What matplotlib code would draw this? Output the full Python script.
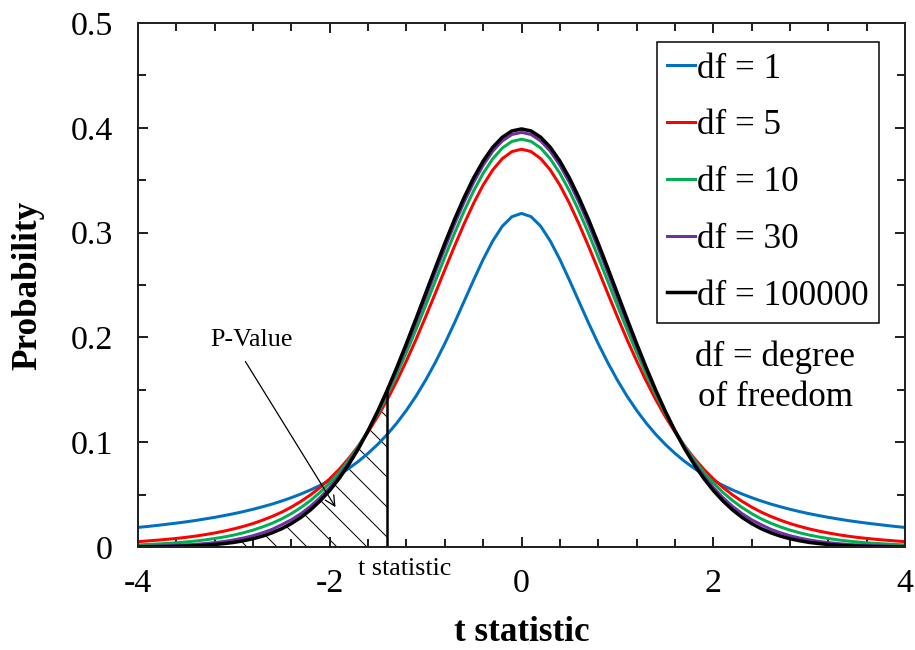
import numpy as np
import matplotlib
matplotlib.use("Agg")
import matplotlib.pyplot as plt
from matplotlib.ticker import MultipleLocator

# t values (x axis), every 0.1 from -4 to 4
t_values = np.round(np.linspace(-4, 4, 81), 1)

# probability density for t = 0, 0.1, ..., 4 (curves are symmetric)
df1_right = [0.3183, 0.3152, 0.3061, 0.2920, 0.2744, 0.2546, 0.2341, 0.2136, 0.1941, 0.1759,
             0.1592, 0.1440, 0.1305, 0.1183, 0.1075, 0.0979, 0.0894, 0.0818, 0.0751, 0.0690,
             0.0637, 0.0588, 0.0545, 0.0506, 0.0471, 0.0439, 0.0410, 0.0384, 0.0360, 0.0338,
             0.0318, 0.0300, 0.0283, 0.0268, 0.0253, 0.0240, 0.0228, 0.0217, 0.0206, 0.0196,
             0.0187]
df5_right = [0.3796, 0.3773, 0.3706, 0.3598, 0.3454, 0.3279, 0.3081, 0.2868, 0.2645, 0.2419,
             0.2197, 0.1981, 0.1777, 0.1585, 0.1407, 0.1245, 0.1098, 0.0966, 0.0848, 0.0743,
             0.0651, 0.0569, 0.0498, 0.0436, 0.0381, 0.0333, 0.0292, 0.0256, 0.0224, 0.0197,
             0.0173, 0.0152, 0.0134, 0.0118, 0.0104, 0.0092, 0.0082, 0.0073, 0.0065, 0.0058,
             0.0051]
df10_right = [0.3891, 0.3870, 0.3807, 0.3704, 0.3566, 0.3397, 0.3203, 0.2991, 0.2766, 0.2535,
              0.2304, 0.2076, 0.1857, 0.1649, 0.1454, 0.1274, 0.1111, 0.0963, 0.0831, 0.0714,
              0.0611, 0.0522, 0.0444, 0.0377, 0.0319, 0.0269, 0.0227, 0.0192, 0.0161, 0.0136,
              0.0114, 0.0096, 0.0081, 0.0068, 0.0057, 0.0048, 0.0040, 0.0034, 0.0029, 0.0024,
              0.0020]
df30_right = [0.3956, 0.3936, 0.3875, 0.3777, 0.3643, 0.3478, 0.3288, 0.3078, 0.2852, 0.2618,
              0.2380, 0.2144, 0.1913, 0.1692, 0.1484, 0.1290, 0.1112, 0.0951, 0.0807, 0.0680,
              0.0568, 0.0472, 0.0389, 0.0319, 0.0260, 0.0213, 0.0169, 0.0136, 0.0108, 0.0086,
              0.0068, 0.0053, 0.0042, 0.0033, 0.0025, 0.0020, 0.0015, 0.0012, 0.0009, 0.0007,
              0.0005]
df100000_right = [0.3989, 0.3970, 0.3910, 0.3814, 0.3683, 0.3521, 0.3332, 0.3123, 0.2897, 0.2661,
                  0.2420, 0.2179, 0.1942, 0.1714, 0.1497, 0.1295, 0.1109, 0.0940, 0.0790, 0.0656,
                  0.0540, 0.0440, 0.0355, 0.0283, 0.0224, 0.0175, 0.0136, 0.0104, 0.0079, 0.0060,
                  0.0044, 0.0033, 0.0024, 0.0017, 0.0012, 0.0009, 0.0006, 0.0004, 0.0003, 0.0002,
                  0.0001]

df1 = df1_right[:0:-1] + df1_right
df5 = df5_right[:0:-1] + df5_right
df10 = df10_right[:0:-1] + df10_right
df30 = df30_right[:0:-1] + df30_right
df100000 = df100000_right[:0:-1] + df100000_right

series = [df1, df5, df10, df30, df100000]
labels = ["df = 1", "df = 5", "df = 10", "df = 30", "df = 100000"]
colors = ["#0070C0", "#FF0000", "#00B050", "#7030A0", "#000000"]

t_crit = -1.4  # the t statistic marked on the chart
y_ticks = [0, 0.1, 0.2, 0.3, 0.4, 0.5]
y_ticklabels = ["0", "0.1", "0.2", "0.3", "0.4", "0.5"]
x_ticks = [-4, -2, 0, 2, 4]

plt.rcParams["font.family"] = "Liberation Serif"
plt.rcParams["axes.unicode_minus"] = False
plt.rcParams["hatch.linewidth"] = 0.4

DPI = 180
fig = plt.figure(figsize=(915 / DPI, 650 / DPI), dpi=DPI)
ax = fig.add_axes([138 / 915, 1 - 547 / 650, (905 - 138) / 915, (547 - 23) / 650])

for ys, lab, col in zip(series, labels, colors):
    lw = 1.4 if col == "#000000" else 1.2
    ax.plot(t_values, ys, color=col, lw=lw, label=lab)

# shaded p-value area under the df = 100000 curve
mask = t_values <= t_crit + 1e-9
ax.fill_between(t_values, 0, df100000, where=mask, facecolor="none",
                edgecolor="black", hatch="\\\\", linewidth=0)
crit_idx = int(np.argmin(np.abs(t_values - t_crit)))
ax.vlines(t_crit, 0, df100000[crit_idx] * 1.02, color="black", lw=1.0)

ax.annotate("", xy=(-1.94, 0.038), xytext=(-2.88, 0.177),
            arrowprops=dict(arrowstyle="->", lw=0.5, color="black",
                            shrinkA=0, shrinkB=0))
ax.text(-2.82, 0.1975, "P-Value", fontsize=10.4, ha="center", va="center")
ax.text(-1.22, -0.021, "t statistic", fontsize=10.4, ha="center", va="center")
ax.text(2.646, 0.162, "df = degree\nof freedom", fontsize=14, ha="center",
        va="center", linespacing=1.25)

ax.set_xlim(-4, 4)
ax.set_ylim(0, 0.5)
ax.set_xticks(x_ticks)
ax.set_yticks(y_ticks)
ax.set_yticklabels(y_ticklabels)
ax.xaxis.set_minor_locator(MultipleLocator(0.4))
ax.yaxis.set_minor_locator(MultipleLocator(0.05))
ax.tick_params(which="both", direction="in", top=True, right=True, width=0.8,
               color="#222222")
ax.tick_params(which="major", length=4, labelsize=13.6)
ax.tick_params(axis="x", which="major", pad=8.8)
ax.tick_params(axis="y", which="major", pad=10)
ax.tick_params(which="minor", length=3.2)
for sp in ax.spines.values():
    sp.set_linewidth(0.8)
    sp.set_color("#222222")

ax.set_xlabel("t statistic", fontsize=14, fontweight="bold", labelpad=6.5)
ax.set_ylabel("Probability", fontsize=14, fontweight="bold", labelpad=10.4)

leg = ax.legend(loc="upper right", bbox_to_anchor=((879 - 138) / 767, (547 - 42) / 524),
                borderaxespad=0, fontsize=14, handlelength=0.8, handletextpad=0.05,
                borderpad=0.3, labelspacing=0.68, fancybox=False, framealpha=1)
leg.get_frame().set_edgecolor("black")
leg.get_frame().set_linewidth(0.6)

fig.savefig("out.png", dpi=DPI)
